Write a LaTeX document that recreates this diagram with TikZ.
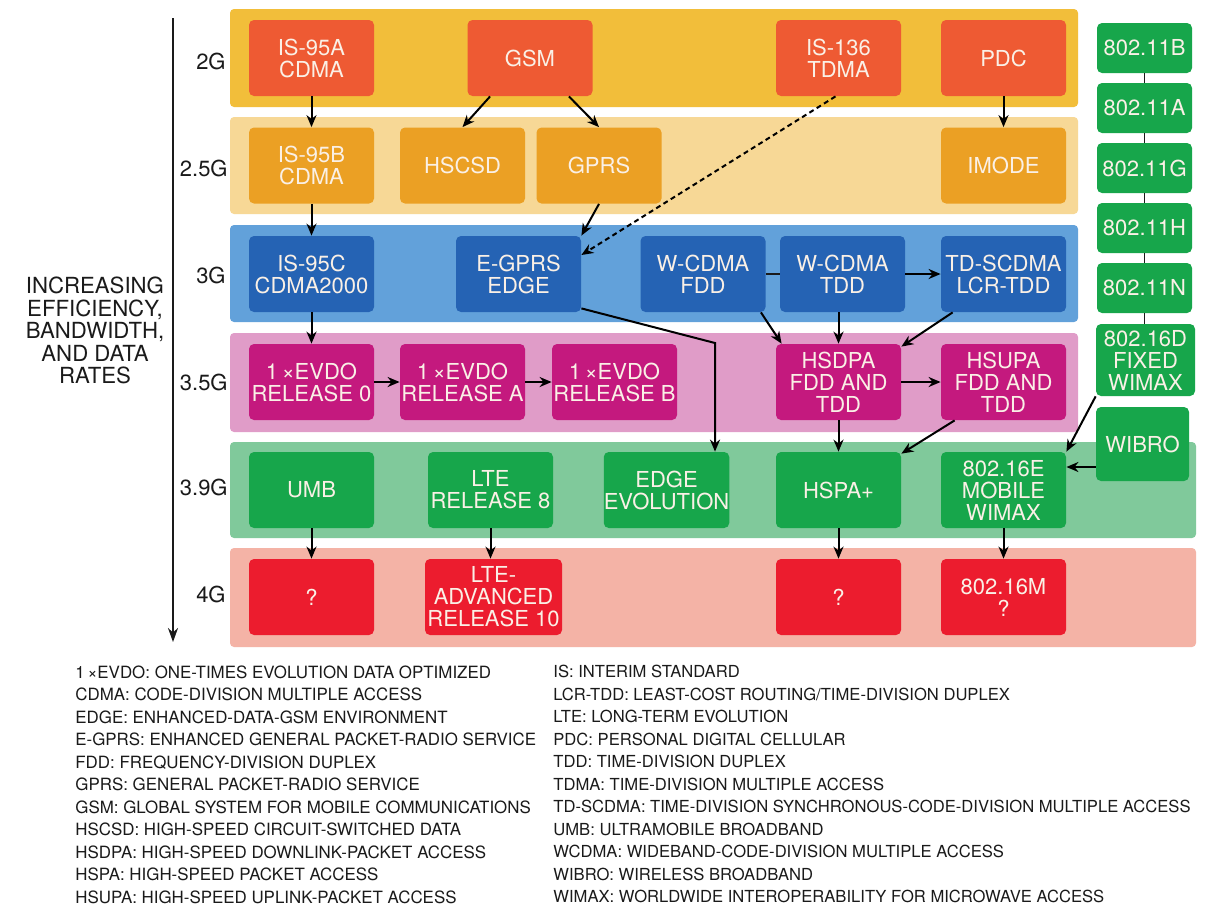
\documentclass[tikz,border=0pt]{standalone}
\usepackage{fontspec}
\setmainfont{TeX Gyre Heros}
\usetikzlibrary{arrows.meta}
\definecolor{b2g}{HTML}{F2BE3A}
\definecolor{n2g}{HTML}{EE5A33}
\definecolor{b25g}{HTML}{F7D896}
\definecolor{n25g}{HTML}{EBA024}
\definecolor{b3g}{HTML}{62A1DA}
\definecolor{n3g}{HTML}{2563B4}
\definecolor{b35g}{HTML}{E09CC8}
\definecolor{n35g}{HTML}{C4197E}
\definecolor{b39g}{HTML}{80C99B}
\definecolor{n39g}{HTML}{17A64B}
\definecolor{b4g}{HTML}{F4B3A6}
\definecolor{n4g}{HTML}{EC1C2E}
\definecolor{ntext}{HTML}{FAF0E6}
\definecolor{ink}{HTML}{1A1A1A}
\newcommand\ndfont{\fontsize{11}{11}\selectfont}
\newcommand\lgfont{\fontsize{8.45}{11.25}\selectfont}
\newcommand\lgrfont{\fontsize{8.3}{11.25}\selectfont}
\tikzset{
  band/.style={rounded corners=2pt},
  nd/.style={rounded corners=2.5pt, inner sep=0pt, align=center, text=ntext, font=\ndfont,
    minimum width=62.5pt, minimum height=38pt},
  g2/.style={nd, fill=n2g},
  g25/.style={nd, fill=n25g},
  g3/.style={nd, fill=n3g},
  g35/.style={nd, fill=n35g},
  g39/.style={nd, fill=n39g},
  g4/.style={nd, fill=n4g},
  wifi/.style={nd, fill=n39g, minimum width=47.5pt, minimum height=25pt},
  arr/.style={-{Stealth[length=6pt,width=5pt]}, line width=1pt, black},
  link/.style={line width=0.7pt, ink},
  lvl/.style={anchor=east, inner sep=0pt, text=ink, font=\fontsize{11}{11}\selectfont},
  legend/.style={anchor=north west, inner sep=0pt, align=left, text=ink, font=\lgfont},
}
\begin{document}
\begin{tikzpicture}[x=0.5pt,y=-0.5pt]
\useasboundingbox[fill=white] (0,0) rectangle (1218,916);
% bands
\fill[band, b2g]  (230,9)   rectangle (1078,107);
\fill[band, b25g] (230,117) rectangle (1078,214);
\fill[band, b3g]  (230,225) rectangle (1078,322);
\fill[band, b35g] (230,333) rectangle (1078,432);
\fill[band, b39g] (230,442) rectangle (1196,538);
\fill[band, b4g]  (230,548) rectangle (1196,647);
% axis
\coordinate (axtop) at (173,18);
\coordinate (axbot) at (173,642);
\draw[-{Stealth[length=7pt,width=5pt]}, line width=1pt, ink] (axtop) -- (axbot);
\node[anchor=north, align=center, inner sep=0pt, text=ink, font=\fontsize{11.1}{11.25}\selectfont] (incr) at (95,277)
  {INCREASING\\EFFICIENCY,\\BANDWIDTH,\\AND DATA\\RATES};
\node[lvl] (l2)  at (226,61)  {2G};
\node[lvl] (l25) at (228,168) {2.5G};
\node[lvl] (l3)  at (226,275) {3G};
\node[lvl] (l35) at (228,382) {3.5G};
\node[lvl] (l39) at (228,487) {3.9G};
\node[lvl] (l4)  at (226,594) {4G};
% 2G
\node[g2] (is95a) at (311.5,58) {IS-95A\\CDMA};
\node[g2] (gsm)   at (530,58)   {GSM};
\node[g2] (is136) at (838.5,58) {IS-136\\TDMA};
\node[g2] (pdc)   at (1003.5,58) {PDC};
% 2.5G
\node[g25] (is95b) at (311.5,165.5) {IS-95B\\CDMA};
\node[g25] (hscsd) at (462.5,165.5) {HSCSD};
\node[g25] (gprs)  at (599,165.5)   {GPRS};
\node[g25] (imode) at (1003.5,165.5) {IMODE};
% 3G
\node[g3] (is95c) at (311.5,274) {IS-95C\\CDMA2000};
\node[g3] (egprs) at (518.5,274) {E-GPRS\\EDGE};
\node[g3] (wfdd)  at (703,274)   {W-CDMA\\FDD};
\node[g3] (wtdd)  at (842.5,274) {W-CDMA\\TDD};
\node[g3] (tdscdma) at (1003.5,274) {TD-SCDMA\\LCR-TDD};
% 3.5G
\node[g35] (r0) at (311.5,382) {1\,×EVDO\\RELEASE 0};
\node[g35] (ra) at (462.5,382) {1\,×EVDO\\RELEASE A};
\node[g35] (rb) at (614.5,382) {1\,×EVDO\\RELEASE B};
\node[g35] (hsdpa) at (838.5,382) {HSDPA\\FDD AND\\TDD};
\node[g35] (hsupa) at (1003.5,382) {HSUPA\\FDD AND\\TDD};
% 3.9G
\node[g39] (umb)  at (311.5,490) {UMB};
\node[g39] (lte8) at (490.5,490) {LTE\\RELEASE 8};
\node[g39] (edgeevo) at (666.5,490) {EDGE\\EVOLUTION};
\node[g39] (hspap) at (838.5,490) {HSPA+};
\node[g39] (w16e) at (1003.5,490) {802.16E\\MOBILE\\WIMAX};
% 4G
\node[g4] (q1) at (311.5,597) {?};
\node[g4, minimum width=68.5pt] (lteadv) at (493.5,597) {LTE-\\ADVANCED\\RELEASE 10};
\node[g4] (q2) at (838.5,597) {?};
\node[g4] (w16m) at (1003.5,597) {802.16M\\?};
% wifi column
\node[wifi] (wb) at (1144.5,48)  {802.11B};
\node[wifi] (wa) at (1144.5,108) {802.11A};
\node[wifi] (wg) at (1144.5,168) {802.11G};
\node[wifi] (wh) at (1144.5,228) {802.11H};
\node[wifi] (wn) at (1144.5,288) {802.11N};
\node[wifi, minimum width=49.5pt, minimum height=36pt] (w16d) at (1145.5,360) {802.16D\\FIXED\\WIMAX};
\node[wifi, minimum width=46.5pt, minimum height=37pt] (wibro) at (1142.5,444) {WIBRO};
% links
\draw[link] (wb.south) -- (wa.north);
\draw[link] (wa.south) -- (wg.north);
\draw[link] (wg.south) -- (wh.north);
\draw[link] (wh.south) -- (wn.north);
\draw[link] (wn.south) -- (wn.south |- w16d.north);
% arrows
\draw[arr] (is95a) -- (is95b);
\draw[arr] (is95b) -- (is95c);
\draw[arr] (is95c) -- (r0);
\draw[arr] (r0) -- (ra);
\draw[arr] (ra) -- (rb);
\draw[arr] (umb) -- (q1);
\draw[arr] (lte8.south) -- (lte8.south |- lteadv.north);
\draw[arr] ([xshift=11.5pt]gsm.south west) -- (hscsd.north);
\draw[arr] ([xshift=-12pt]gsm.south east) -- (gprs.north);
\draw[arr] (gprs.south) -- (egprs.north east);
\draw[arr, dash pattern=on 2.5pt off 1.8pt] ([xshift=-1.5pt]is136.south) -- ([yshift=9.5pt]egprs.east);
\draw[arr] (pdc) -- (imode);
\coordinate (bend) at (715,343);
\draw[arr] ([yshift=2pt]egprs.south east) -- (bend) -- (bend |- edgeevo.north);
\draw[link, line width=1pt] (wfdd.east) -- (wtdd.west);
\draw[arr] (wtdd.east) -- (tdscdma.west);
\draw[arr] ([xshift=-2.5pt]wfdd.south east) -- ([xshift=3pt]hsdpa.north west);
\draw[arr] (wtdd.south -| hsdpa.north) -- (hsdpa.north);
\draw[arr] ([xshift=6pt]tdscdma.south west) -- ([yshift=-1.5pt]hsdpa.north east);
\draw[arr] (hsdpa) -- (hsupa);
\draw[arr] (hsdpa) -- (hspap);
\draw[arr] ([xshift=7pt]hsupa.south west) -- ([yshift=-1pt]hspap.north east);
\draw[arr] (hspap) -- (q2);
\draw[arr] (w16d.south west) -- (w16e.north east);
\draw[arr] ([yshift=-11.5pt]wibro.west) -- ([yshift=-11.5pt]wibro.west -| w16e.east);
\draw[arr] (w16e) -- (w16m);
% legend
\node[legend] (legl) at (75,665) {1\,×EVDO: ONE-TIMES EVOLUTION DATA OPTIMIZED\\
CDMA: CODE-DIVISION MULTIPLE ACCESS\\
EDGE: ENHANCED-DATA-GSM ENVIRONMENT\\
E-GPRS: ENHANCED GENERAL PACKET-RADIO SERVICE\\
FDD: FREQUENCY-DIVISION DUPLEX\\
GPRS: GENERAL PACKET-RADIO SERVICE\\
GSM: GLOBAL SYSTEM FOR MOBILE COMMUNICATIONS\\
HSCSD: HIGH-SPEED CIRCUIT-SWITCHED DATA\\
HSDPA: HIGH-SPEED DOWNLINK-PACKET ACCESS\\
HSPA: HIGH-SPEED PACKET ACCESS\\
HSUPA: HIGH-SPEED UPLINK-PACKET ACCESS};
\node[legend, font=\lgrfont] (legr) at (553,665) {IS: INTERIM STANDARD\\
LCR-TDD: LEAST-COST ROUTING/TIME-DIVISION DUPLEX\\
LTE: LONG-TERM EVOLUTION\\
PDC: PERSONAL DIGITAL CELLULAR\\
TDD: TIME-DIVISION DUPLEX\\
TDMA: TIME-DIVISION MULTIPLE ACCESS\\
TD-SCDMA: TIME-DIVISION SYNCHRONOUS-CODE-DIVISION MULTIPLE ACCESS\\
UMB: ULTRAMOBILE BROADBAND\\
WCDMA: WIDEBAND-CODE-DIVISION MULTIPLE ACCESS\\
WIBRO: WIRELESS BROADBAND\\
WIMAX: WORLDWIDE INTEROPERABILITY FOR MICROWAVE ACCESS};
\end{tikzpicture}
\end{document}
